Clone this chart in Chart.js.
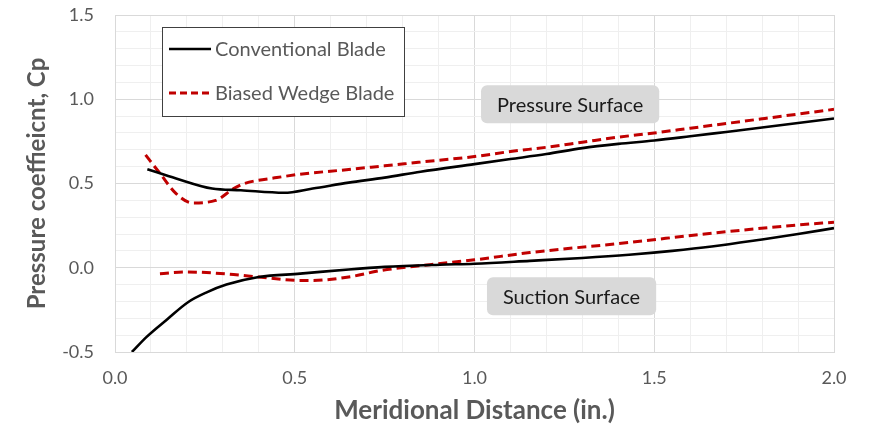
<!DOCTYPE html>
<html>
<head>
<meta charset="utf-8">
<title>Pressure coefficient</title>
<script src="https://cdn.jsdelivr.net/npm/chart.js@4.4.1/dist/chart.umd.min.js"></script>
<style>
  html, body { margin: 0; padding: 0; background: #fff; }
  #wrap { width: 872px; height: 432px; }
</style>
</head>
<body>
<div id="wrap"><canvas id="cpChart" width="872" height="432"></canvas></div>
<script>
// Cp distributions along the meridional distance
const convPressX = [0.09, 0.17, 0.27, 0.35, 0.47, 0.55, 0.65, 0.75, 0.85, 1.0, 1.1, 1.2, 1.3, 1.4, 1.5, 1.6, 1.7, 1.8, 1.9, 2.0];
const convPressY = [0.585, 0.53, 0.47, 0.46, 0.445, 0.47, 0.505, 0.535, 0.57, 0.615, 0.645, 0.675, 0.71, 0.735, 0.755, 0.78, 0.806, 0.832, 0.859, 0.886];

const wedgePressX = [0.085, 0.125, 0.17, 0.215, 0.28, 0.33, 0.36, 0.45, 0.515, 0.65, 0.75, 0.85, 1.0, 1.1, 1.2, 1.3, 1.4, 1.5, 1.6, 1.7, 1.8, 1.9, 2.0];
const wedgePressY = [0.67, 0.56, 0.44, 0.385, 0.40, 0.47, 0.50, 0.535, 0.555, 0.583, 0.605, 0.627, 0.66, 0.69, 0.715, 0.745, 0.775, 0.80, 0.828, 0.856, 0.884, 0.912, 0.94];

const convSuctX = [0.047, 0.088, 0.144, 0.204, 0.255, 0.31, 0.40, 0.515, 0.65, 0.75, 0.904, 1.0, 1.154, 1.3, 1.43, 1.55, 1.66, 1.8, 1.9, 2.0];
const convSuctY = [-0.50, -0.41, -0.308, -0.203, -0.146, -0.10, -0.055, -0.035, -0.01, 0.005, 0.018, 0.024, 0.041, 0.058, 0.077, 0.10, 0.126, 0.168, 0.20, 0.235];

const wedgeSuctX = [0.125, 0.20, 0.33, 0.40, 0.515, 0.55, 0.65, 0.74, 0.876, 1.0, 1.154, 1.43, 1.66, 1.9, 2.0];
const wedgeSuctY = [-0.035, -0.025, -0.04, -0.055, -0.075, -0.075, -0.055, -0.016, 0.018, 0.047, 0.09, 0.15, 0.205, 0.254, 0.27];

const seriesNames = ['Conventional Blade', 'Biased Wedge Blade'];
const surfaceLabels = [
    { text: 'Pressure Surface', x: 1.266, y: 0.97 },
    { text: 'Suction Surface', x: 1.27, y: -0.169 }
];

const FONT = "Lato, 'Open Sans', sans-serif";
const GREY_TEXT = '#595959';
const BLACK = '#000000';
const RED = '#c00000';

function toPoints(xs, ys) {
    return xs.map((x, i) => ({ x: x, y: ys[i] }));
}

function isMajor(v) {
    return Math.abs(v * 2 - Math.round(v * 2)) < 1e-6;
}

function solid(data) {
    return {
        data: data,
        borderColor: BLACK,
        borderWidth: 2.6,
        pointRadius: 0,
        showLine: true,
        cubicInterpolationMode: 'monotone'
    };
}

function dashed(data) {
    return {
        data: data,
        borderColor: RED,
        borderWidth: 3,
        borderDash: [9, 5],
        pointRadius: 0,
        showLine: true,
        cubicInterpolationMode: 'monotone'
    };
}

// legend box and surface tags drawn on top of the plot
const overlayPlugin = {
    id: 'overlay',
    afterDatasetsDraw(chart) {
        const ctx = chart.ctx;
        const area = chart.chartArea;
        const xs = chart.scales.x;
        const ys = chart.scales.y;

        ctx.save();

        // legend
        const lx = area.left + 47, ly = area.top + 12, lw = 242, lh = 89;
        ctx.fillStyle = '#fff';
        ctx.fillRect(lx, ly, lw, lh);
        ctx.strokeStyle = '#404040';
        ctx.lineWidth = 1;
        ctx.strokeRect(lx + 0.5, ly + 0.5, lw, lh);

        const rows = [ly + 22, ly + 66];
        ctx.font = '20px ' + FONT;
        ctx.textBaseline = 'middle';
        rows.forEach((ry, i) => {
            ctx.beginPath();
            ctx.moveTo(lx + 7, ry);
            ctx.lineTo(lx + 49, ry);
            if (i === 0) {
                ctx.strokeStyle = BLACK;
                ctx.lineWidth = 2.6;
                ctx.setLineDash([]);
            } else {
                ctx.strokeStyle = RED;
                ctx.lineWidth = 3;
                ctx.setLineDash([7, 4]);
            }
            ctx.stroke();
            ctx.setLineDash([]);
            ctx.fillStyle = GREY_TEXT;
            ctx.textAlign = 'left';
            ctx.fillText(seriesNames[i], lx + 53, ry + 1);
        });

        // surface tags
        ctx.font = '20px ' + FONT;
        surfaceLabels.forEach(lab => {
            const cx = xs.getPixelForValue(lab.x);
            const cy = ys.getPixelForValue(lab.y);
            const w = ctx.measureText(lab.text).width + 32;
            const h = 38;
            ctx.fillStyle = '#d9d9d9';
            ctx.beginPath();
            ctx.roundRect(cx - w / 2, cy - h / 2, w, h, 6);
            ctx.fill();
            ctx.fillStyle = '#1a1a1a';
            ctx.textAlign = 'center';
            ctx.textBaseline = 'middle';
            ctx.fillText(lab.text, cx, cy + 1);
        });

        ctx.restore();
    }
};

new Chart(document.getElementById('cpChart'), {
    type: 'scatter',
    data: {
        datasets: [
            solid(toPoints(convPressX, convPressY)),
            dashed(toPoints(wedgePressX, wedgePressY)),
            solid(toPoints(convSuctX, convSuctY)),
            dashed(toPoints(wedgeSuctX, wedgeSuctY))
        ]
    },
    options: {
        responsive: false,
        animation: false,
        layout: { padding: { top: 15, right: 38, left: 0, bottom: 0 } },
        plugins: {
            legend: { display: false },
            tooltip: { enabled: false }
        },
        scales: {
            x: {
                type: 'linear',
                min: 0,
                max: 2,
                afterFit(scale) {
                    scale.height = 80;
                    scale.paddingLeft = 0;
                    scale.paddingRight = 0;
                },
                ticks: {
                    stepSize: 0.1,
                    autoSkip: false,
                    maxRotation: 0,
                    padding: 15,
                    color: GREY_TEXT,
                    font: { family: FONT, size: 18 },
                    callback: v => isMajor(v) ? v.toFixed(1) : ''
                },
                grid: {
                    drawTicks: false,
                    color: c => (c.tick && isMajor(c.tick.value)) ? '#d9d9d9' : '#efefef'
                },
                border: { color: '#d9d9d9' },
                title: {
                    display: true,
                    text: 'Meridional Distance (in.)',
                    color: GREY_TEXT,
                    font: { family: FONT, size: 26, weight: 'bold' },
                    padding: { top: 0, bottom: 6 }
                }
            },
            y: {
                type: 'linear',
                min: -0.5,
                max: 1.5,
                afterFit(scale) {
                    scale.width = 115;
                    scale.paddingTop = 0;
                    scale.paddingBottom = 0;
                },
                ticks: {
                    stepSize: 0.1,
                    autoSkip: false,
                    padding: 21,
                    color: GREY_TEXT,
                    font: { family: FONT, size: 18 },
                    callback: v => isMajor(v) ? v.toFixed(1) : ''
                },
                grid: {
                    drawTicks: false,
                    color: c => (c.tick && isMajor(c.tick.value)) ? '#d9d9d9' : '#efefef'
                },
                border: { color: '#d9d9d9' },
                title: {
                    display: true,
                    text: 'Pressure coeffieicnt, Cp',
                    color: GREY_TEXT,
                    font: { family: FONT, size: 24, weight: 'bold' },
                    padding: { top: 23, bottom: 0 }
                }
            }
        }
    },
    plugins: [overlayPlugin]
});
</script>
</body>
</html>
